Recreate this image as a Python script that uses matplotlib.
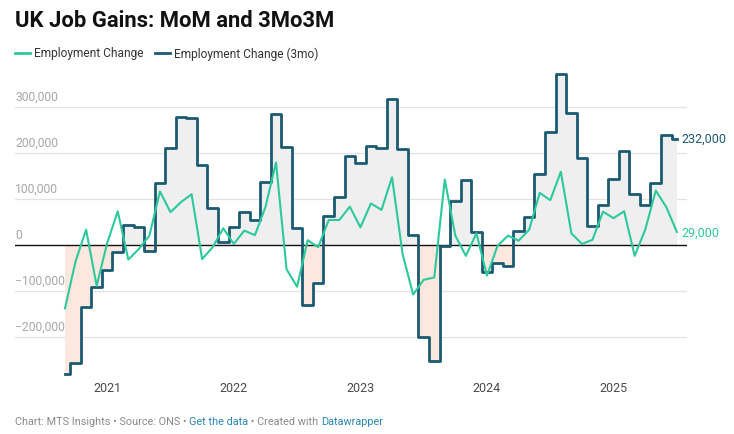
import numpy as np
import matplotlib
matplotlib.use("Agg")
import matplotlib.pyplot as plt
from matplotlib.lines import Line2D

plt.rcParams['font.family'] = ['Roboto', 'DejaVu Sans']

# monthly points, Sep 2020 .. Jul 2025
months = np.arange(59)
year_ticks = [4, 16, 28, 40, 52]
year_labels = ['2021', '2022', '2023', '2024', '2025']

# Employment Change (3mo), thousands
emp_3mo = [-280, -255, -135, -90, -54, -15, 45, 39, -12, 135,
           212, 280, 276, 175, 82, 8, 39, 72, 56, 138,
           285, 213, 38, -129, -83, 63, 104, 195, 180, 216,
           211, 317, 209, 23, -200, -251, -1, 96, 143, 28,
           -59, -38, -44, 30, 62, 155, 246, 372, 287, 189,
           41, 88, 144, 206, 112, 88, 135, 240, 232]

# Employment Change (monthly), thousands
emp_mom = [-137, -35, 34, -88, 5, 74, -31, -8, 21, 117,
           72, 94, 111, -30, -4, 37, 3, 32, 22, 83,
           180, -52, -90, 11, -4, 55, 55, 84, 39, 91,
           77, 148, -19, -107, -75, -70, 143, 21, -23, 26,
           -66, -1, 21, 10, 34, 114, 98, 160, 26, 3,
           12, 73, 59, 74, -23, 34, 119, 83, 29]

y3 = np.array(emp_3mo) * 1000
y1 = np.array(emp_mom) * 1000

C_MOM = '#2cc99c'
C_3MO = '#1b5b71'

W, H = 734, 435
fig = plt.figure(figsize=(W / 100, H / 100), dpi=100)
ax = fig.add_axes([15 / W, (H - 380) / H, (687 - 15) / W, (380 - 70) / H])
ax.set_xlim(-4.74, 58.96)
ax.set_ylim(-290700, 383300)

# grid + y labels sitting above the lines
for v in [-200000, -100000, 100000, 200000, 300000]:
    ax.axhline(v, color='#e2e2e2', lw=0.9, zorder=0)
for v in [-200000, -100000, 0, 100000, 200000, 300000]:
    lab = f'{abs(v):,}'
    if v < 0:
        lab = '\u2212' + lab
    ax.annotate(lab, xy=(0, v), xycoords=('axes fraction', 'data'),
                xytext=(0, 3), textcoords='offset points',
                ha='left', va='bottom', fontsize=8.7, color='#a8a8a8')

# shaded area between 3mo step and zero
ax.fill_between(months, np.clip(y3, 0, None), 0, step='mid',
                color='#efefef', lw=0, zorder=1)
ax.fill_between(months, np.clip(y3, None, 0), 0, step='mid',
                color='#fde7df', lw=0, zorder=1)
ax.axhline(0, color='#111111', lw=1, zorder=2)

ax.step(months, y3, where='mid', color=C_3MO, lw=2, zorder=3)
ax.plot(months, y1, color=C_MOM, lw=1.5, zorder=4)

ax.annotate(f'{emp_3mo[-1] * 1000:,}', xy=(months[-1], y3[-1]),
            xytext=(3.5, 0), textcoords='offset points',
            va='center', ha='left', fontsize=9, color=C_3MO)
ax.annotate(f'{emp_mom[-1] * 1000:,}', xy=(months[-1], y1[-1]),
            xytext=(3.5, 0), textcoords='offset points',
            va='center', ha='left', fontsize=9, color=C_MOM)

ax.set_xticks(year_ticks)
ax.set_xticklabels(year_labels, fontsize=9, color='#4a4a4a')
ax.tick_params(axis='x', length=0, pad=1.5)
ax.set_yticks([])
for s in ax.spines.values():
    s.set_visible(False)

# title + legend
fig.text(15 / W, 1 - 21 / H, 'UK Job Gains: MoM and 3Mo3M', fontsize=15.8,
         weight='bold', color='#111111', ha='left', va='center')
ly = 1 - 54 / H
for x0, col, txt in [(15, C_MOM, 'Employment Change'),
                     (155, C_3MO, 'Employment Change (3mo)')]:
    fig.add_artist(Line2D([x0 / W, (x0 + 15) / W], [ly, ly], color=col, lw=2))
    fig.text((x0 + 19) / W, ly, txt, fontsize=8.6, color='#333333',
             ha='left', va='center')

# footer, pieces chained one after another
parts = [('Chart: MTS Insights \u2022 Source: ONS \u2022 ', '#8a8a8a'),
         ('Get the data', '#2a86b8'),
         (' \u2022 Created with ', '#8a8a8a'),
         ('Datawrapper', '#2a86b8')]
prev = fig.text(15 / W, 1 - 422 / H, parts[0][0], fontsize=7.8,
                color=parts[0][1], ha='left', va='center')
for txt, col in parts[1:]:
    prev = ax.annotate(txt, xy=(1, 0), xycoords=prev, fontsize=7.8,
                       color=col, ha='left', va='bottom',
                       annotation_clip=False)

fig.savefig('out.png', dpi=100)
